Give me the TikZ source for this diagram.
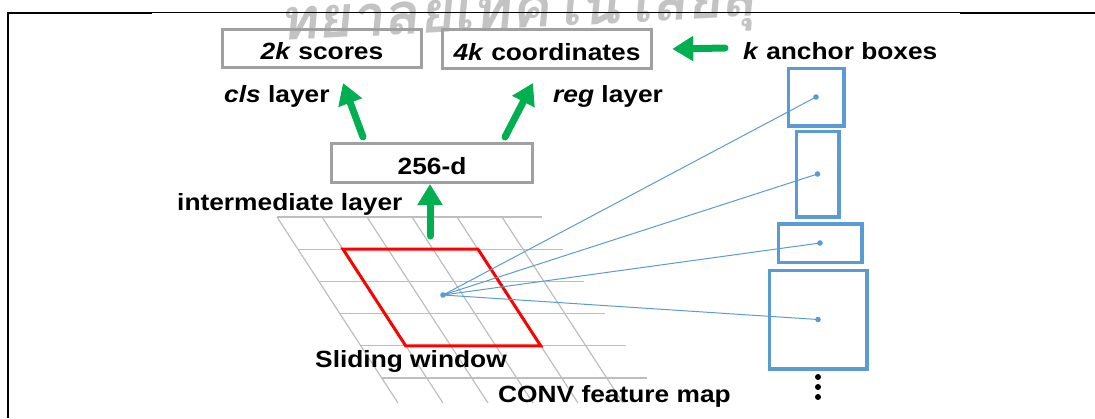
\documentclass[tikz,border=0pt]{standalone}
\usepackage{fontspec}
\setmainfont{Liberation Sans}[FakeStretch=1.12]
\newfontfamily\thaifont[Script=Thai,FakeSlant=0.15]{Loma}
\usepackage{xcolor}
\usetikzlibrary{arrows.meta, positioning, calc}

\definecolor{arrowgreen}{RGB}{0,176,80}
\definecolor{anchorblue}{RGB}{91,155,213}
\definecolor{boxgray}{RGB}{160,160,160}
\definecolor{gridgray}{RGB}{190,190,190}
\definecolor{markgray}{RGB}{195,195,195}

\tikzset{
  layerbox/.style={draw=boxgray, line width=3pt, inner sep=0pt, text height=22pt, text depth=0pt},
  anchorbox/.style={draw=anchorblue, line width=3.5pt, inner sep=0pt},
  greenarrow/.style={-{Triangle[length=21pt,width=24pt]}, line width=7pt, line cap=round, arrowgreen},
  txt/.style={anchor=base west, inner sep=0pt},
  ray/.style={anchorblue, line width=1pt},
  gridline/.style={gridgray, line width=1.2pt},
  window/.style={red, line width=3pt, line join=miter}
}

\begin{document}
\begin{tikzpicture}[x=1pt, y=-1pt, font=\fontsize{23.5}{28}\selectfont\bfseries]
\useasboundingbox (0,0) rectangle (1095,418);

\begin{scope}
\clip (0,0) rectangle (1095,418);
\node[anchor=base west, inner sep=0pt, rotate=3, markgray, font=\fontsize{58}{62}\selectfont\thaifont\bfseries] (wmark) at (280,41) {ทยาลัยเทคโนโลยีสุ};
\end{scope}

\draw[line width=1pt] (7,12.7) -- (1095,12.7);
\draw[line width=2pt] (7,13) -- (152,13);
\draw[line width=2pt] (960,13) -- (1095,13);
\draw[line width=2.3pt] (7.8,12) -- (7.8,418);

\foreach \r in {0,...,5}
  \draw[gridline] ({277+21*\r},{217+32.2*\r}) -- ++(265,0);
\foreach \c in {0,...,5}
  \draw[gridline] ({277+45*\c},217) -- ++(121,186);

\draw[window] (343,249.2) -- (478,249.2) -- (540.7,345.8) -- (405.7,345.8) -- cycle;
\coordinate (win) at (443,295);

\foreach \n/\cx/\cy/\w/\h in {a1/816/97/55.5/57.5, a2/817.5/174/42.5/85.5, a3/820/243/83.5/38.5, a4/818/319.5/97.5/98.5}
  \node[anchorbox, minimum width=\w pt, minimum height=\h pt] (\n) at (\cx,\cy) {};

\foreach \n in {a1,a2,a3,a4} {
  \draw[ray] (win) -- (\n.center);
  \fill[anchorblue] (\n.center) circle (2.8pt);
}
\fill[anchorblue] (win) circle (2.8pt);

\foreach \yy in {377,387,397}
  \fill (818,\yy) circle (3pt);

\node[layerbox, minimum width=199pt, minimum height=38pt] (scores) at (322,48) {\textit{2k} scores};
\node[layerbox, minimum width=209.5pt, minimum height=39pt] (coords) at (547,49) {\textit{4k} coordinates};
\node[layerbox, minimum width=200.5pt, minimum height=39pt] (feat) at (432,163) {256-d};

\node[txt] (clslbl) at (224,102) {\textit{cls} layer};
\node[txt] (reglbl) at (553,102) {\textit{reg} layer};
\node[txt] (klbl) at (743,59) {\textit{k} anchor boxes};
\node[txt] (interlbl) at (177,210) {intermediate layer};
\node[txt] (slidelbl) at (315,367) {Sliding window};
\node[txt] (convlbl) at (498,402) {CONV feature map};

\coordinate (upfrom) at (430,236);
\coordinate (clsfrom) at (363,137);
\coordinate (clsto) at (343,83);
\coordinate (regfrom) at (505,137);
\coordinate (regto) at (533,83);
\coordinate (kfrom) at (725,48);

\draw[greenarrow] (upfrom) -- ([xshift=-2pt]feat.south);
\draw[greenarrow] (clsfrom) -- (clsto);
\draw[greenarrow] (regfrom) -- (regto);
\draw[greenarrow] (kfrom) -- ([xshift=19pt]coords.east);
\end{tikzpicture}
\end{document}
